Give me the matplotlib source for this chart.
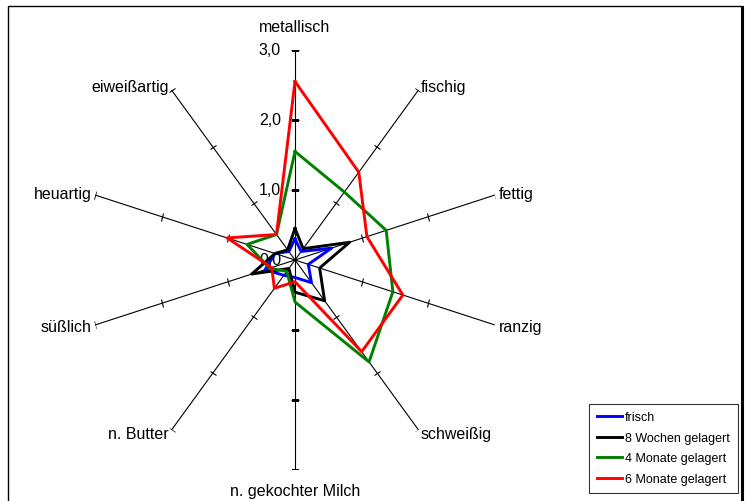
import numpy as np
import matplotlib
matplotlib.use("Agg")
import matplotlib.pyplot as plt
from matplotlib.patches import Rectangle
from matplotlib.lines import Line2D
from matplotlib.markers import MarkerStyle
from matplotlib.transforms import Affine2D, offset_copy

plt.rcParams['font.family'] = ['Liberation Sans', 'DejaVu Sans']

categories = ['metallisch', 'fischig', 'fettig', 'ranzig', 'schweißig',
              'n. gekochter Milch', 'n. Butter', 'süßlich', 'heuartig', 'eiweißartig']

frisch = [0.30, 0.15, 0.55, 0.20, 0.40, 0.25, 0.27, 0.45, 0.30, 0.15]
wochen8 = [0.45, 0.20, 0.82, 0.37, 0.72, 0.46, 0.15, 0.65, 0.30, 0.18]
monate4 = [1.55, 1.20, 1.37, 1.47, 1.80, 0.60, 0.20, 0.38, 0.72, 0.45]
monate6 = [2.55, 1.55, 1.08, 1.62, 1.62, 0.31, 0.50, 0.35, 1.02, 0.45]

series_names = ['frisch', '8 Wochen gelagert', '4 Monate gelagert', '6 Monate gelagert']
series_colors = ['#0000ff', '#000000', '#008000', '#ff0000']

ticks = [1.0, 2.0, 3.0]
tick_labels = ['0,0', '1,0', '2,0', '3,0']
rmax = 3.0

W, H = 749, 502
fig = plt.figure(figsize=(W / 100, H / 100), dpi=100)

# polar axes placed so the centre sits at ~(295, 261) px with radius 210 px
cx, cy, rad = 295, 261, 210
ax = fig.add_axes([(cx - rad) / W, (H - cy - rad) / H, 2 * rad / W, 2 * rad / H],
                  projection='polar')
ax.set_theta_zero_location('N')
ax.set_theta_direction(-1)
ax.set_ylim(0, rmax)
ax.grid(False)
ax.set_xticks([])
ax.set_yticks([])
ax.spines['polar'].set_visible(False)
ax.patch.set_alpha(0)

n = len(categories)
angles = np.arange(n) * 2 * np.pi / n

# spokes with crossing tick marks
for k, a in enumerate(angles):
    ax.plot([a, a], [0, rmax], color='black', lw=0.8, zorder=1)
    rot = 180 - np.degrees(a)
    if abs(rot % 180) < 1e-6:
        m = '_'
    else:
        m = MarkerStyle('_', transform=Affine2D().rotate_deg(rot))
    ax.plot([a] * len(ticks), ticks, linestyle='none', marker=m,
            color='black', markersize=6, markeredgewidth=0.8, zorder=1)

# value axis labels along the top spoke
lab_tr = offset_copy(ax.transData, fig=fig, x=-14, y=0, units='dots')
for v, t in zip([0.0] + ticks, tick_labels):
    ax.text(0, v, t, transform=lab_tr, ha='right', va='center', fontsize=11.5, zorder=1)

# category labels
for a, name in zip(angles, categories):
    deg = np.degrees(a) % 360
    if deg == 0:
        ax.text(a, rmax + 0.33, name, ha='center', va='center', fontsize=11.5)
    elif deg == 180:
        ax.text(a, rmax + 0.30, name, ha='center', va='center', fontsize=11.5)
    elif deg < 180:
        ax.text(a, rmax + 0.06, name, ha='left', va='center', fontsize=11.5)
    else:
        ax.text(a, rmax + 0.06, name, ha='right', va='center', fontsize=11.5)

# data lines
handles = []
for vals, name, col in zip([frisch, wochen8, monate4, monate6], series_names, series_colors):
    th = np.append(angles, angles[0])
    rr = np.append(vals, vals[0])
    h, = ax.plot(th, rr, color=col, lw=2.1, label=name, zorder=3)
    handles.append(h)

leg = fig.legend(handles=handles, loc='upper left',
                 bbox_to_anchor=(589 / W, 1 - 405 / H), fontsize=9,
                 frameon=True, fancybox=False, edgecolor='black',
                 handlelength=2.0, handletextpad=0.3, borderpad=0.6,
                 labelspacing=0.68, borderaxespad=0)
leg.get_frame().set_linewidth(0.8)

# chart frame
fig.add_artist(Rectangle((8 / W, -0.05), (742 - 8) / W, (H - 7) / H + 0.05,
                         transform=fig.transFigure, fill=False, lw=1.0, color='black'))
fig.add_artist(Line2D([742 / W, 742 / W], [-0.05, 1 - 8 / H],
                      transform=fig.transFigure, lw=2.2, color='black'))

fig.savefig('out.png', dpi=100)
